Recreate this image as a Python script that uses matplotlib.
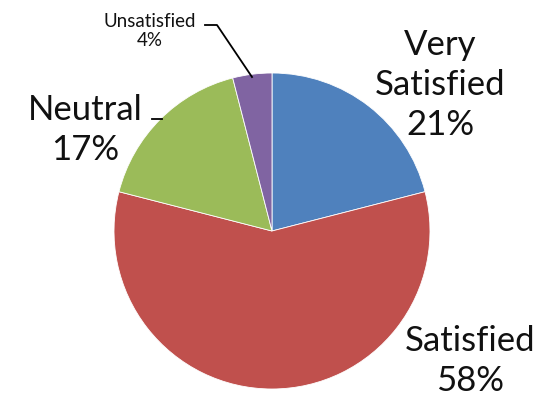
import matplotlib.pyplot as plt

labels = ['Very\nSatisfied', 'Satisfied', 'Neutral', 'Unsatisfied']
shares = [21, 58, 17, 4]
colors = ['#4F81BD', '#C0504D', '#9BBB59', '#8064A2']

plt.rcParams['font.family'] = ['Lato', 'DejaVu Sans']

W, H = 556, 401
fig = plt.figure(figsize=(W / 100, H / 100), dpi=100)
ax = fig.add_axes([0, 0, 1, 1])

cx, cy, r = 272, H - 231, 158
ax.pie(shares, colors=colors, startangle=90, counterclock=False,
       center=(cx, cy), radius=r, frame=True,
       wedgeprops=dict(edgecolor='white', linewidth=0.6))
ax.set_xlim(0, W)
ax.set_ylim(0, H)
ax.set_aspect('equal')
ax.axis('off')

def lbl(i):
    return f'{labels[i]}\n{shares[i]}%'

big = dict(ha='center', va='center', fontsize=25, color='#111111', linespacing=1.3)
ax.text(440, H - 85, lbl(0), **big)
ax.text(470, H - 361, lbl(1), **big)
ax.text(85, H - 130, lbl(2), **big)
ax.text(150, H - 31, lbl(3), ha='center', va='center', fontsize=13.5,
        color='#111111', linespacing=1.2)

# leader lines
ax.plot([205, 217, 252], [H - 25, H - 25, H - 77], color='black', lw=1.3)
ax.plot([152, 162], [H - 119, H - 119], color='black', lw=1.3)

fig.savefig('out.png', dpi=100)
